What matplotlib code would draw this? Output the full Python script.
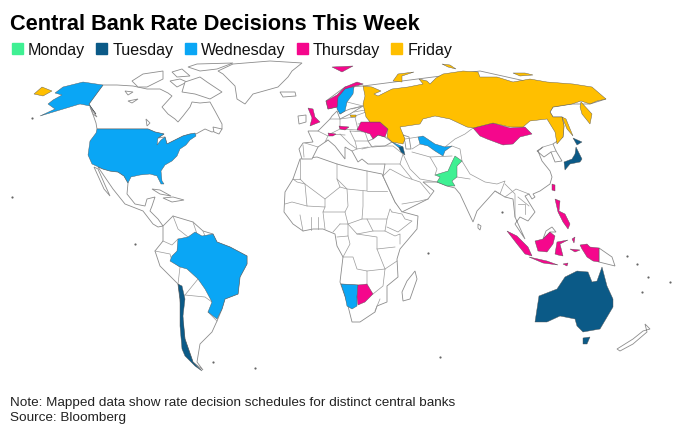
import matplotlib.pyplot as plt
from matplotlib.patches import Patch

plt.rcParams['font.family'] = ['Liberation Sans', 'DejaVu Sans']

title = "Central Bank Rate Decisions This Week"
days = ['Monday', 'Tuesday', 'Wednesday', 'Thursday', 'Friday']
day_colors = ['#3ff093', '#0b5a87', '#0aa6f5', '#f5078c', '#ffbf00']
note = "Note: Mapped data show rate decision schedules for distinct central banks\nSource: Bloomberg"

# outlines, as x/y
canada = [(103, 86), (117, 86), (133, 87), (147, 90), (160, 90), (168, 94), (172, 97), (162, 108), (168, 115), (175, 120),
          (178, 123), (183, 117), (190, 108), (192, 103), (200, 104), (210, 103), (215, 112), (222, 125), (222, 130),
          (212, 133), (205, 130), (196, 135), (190, 135), (183, 137), (175, 141), (167, 145), (165, 138), (158, 139),
          (164, 135), (155, 133), (148, 130), (97, 130), (96, 124), (90, 107), (89, 105)]
greenland = [(218, 72), (233, 65), (270, 62), (302, 64), (292, 72), (288, 78), (278, 88), (253, 95), (245, 105),
             (237, 100), (235, 87), (223, 75)]
arctic_islands = [
    [(188, 68), (197, 65), (233, 64), (217, 70), (200, 72)],
    [(132, 82), (143, 75), (163, 72), (163, 80), (147, 88), (138, 88)],
    [(170, 82), (180, 80), (187, 83), (177, 88)],
    [(185, 83), (200, 78), (207, 83), (222, 93), (210, 100), (195, 95), (182, 93)],
    [(172, 73), (182, 70), (190, 77), (177, 78)],
    [(125, 92), (133, 93), (128, 96)],
    [(128, 102), (138, 100), (132, 104)],
    [(213, 128), (222, 130), (219, 135), (214, 133)],
    [(280, 93), (295, 93), (296, 97), (283, 98)],
    [(90, 108), (97, 118), (93, 115)],
    [(146, 120), (150, 124), (147, 127)],
]
mexico = [(98, 168), (103, 170), (110, 172), (118, 173), (124, 177), (128, 184), (127, 195), (135, 205), (145, 207),
          (147, 200), (155, 198), (152, 207), (150, 212), (158, 220), (163, 227), (158, 228), (153, 225), (143, 212),
          (125, 205), (113, 190)]
baja = [(94, 168), (98, 170), (105, 186), (110, 197), (104, 190)]
caribbean = [
    [(152, 190), (160, 191), (171, 197), (160, 195)],
    [(163, 199), (173, 198), (184, 201), (172, 203)],
]
south_america = [(163, 227), (173, 217), (193, 223), (203, 232), (213, 235), (217, 243), (230, 248), (247, 257),
                 (247, 265), (240, 278), (238, 295), (225, 300), (222, 310), (217, 322), (212, 333), (200, 345),
                 (197, 363), (203, 371), (193, 363), (185, 340), (178, 285), (160, 267), (155, 252), (163, 242)]
africa = [(300, 160), (317, 158), (337, 165), (348, 168), (367, 172), (382, 175), (395, 203), (403, 213), (418, 217),
          (417, 230), (400, 250), (397, 260), (398, 278), (387, 287), (387, 303), (377, 307), (375, 313), (360, 323),
          (352, 323), (347, 303), (340, 283), (343, 258), (337, 247), (335, 235), (323, 230), (313, 230), (303, 232),
          (293, 225), (284, 213), (285, 193), (293, 180)]
eurasia = [(363, 87), (480, 72), (606, 100), (590, 105), (572, 105), (553, 108), (550, 113), (553, 118), (562, 118),
           (564, 127), (563, 138), (553, 145), (556, 152), (562, 162), (555, 163), (551, 153), (544, 158), (537, 152),
           (543, 148), (538, 152), (542, 162), (550, 172), (552, 178), (550, 185), (540, 192), (533, 195), (535, 198),
           (532, 200), (529, 195), (525, 197), (535, 213), (528, 222), (520, 218), (515, 225), (525, 240), (515, 218),
           (513, 200), (505, 198), (495, 192), (477, 212), (473, 223), (460, 195), (455, 189), (447, 187), (437, 183),
           (423, 183), (434, 192), (428, 200), (402, 213), (395, 203), (383, 177), (385, 165), (368, 165), (362, 160),
           (358, 163), (352, 152), (345, 148), (345, 160), (335, 147), (328, 141), (318, 148), (312, 160), (302, 160),
           (299, 150), (303, 144), (313, 143), (308, 132), (318, 132), (330, 120), (332, 117), (337, 112), (340, 120),
           (350, 115), (363, 107), (350, 110), (345, 112), (340, 115), (337, 108), (328, 110), (326, 102), (345, 88)]
black_sea = [(368, 142), (373, 140), (378, 136), (385, 138), (392, 143), (385, 147), (372, 148)]
caspian = [(403, 136), (409, 138), (411, 150), (406, 150), (405, 143)]
other_islands = [
    [(298, 117), (306, 116), (306, 123), (299, 125)],
    [(478, 225), (481, 227), (480, 231), (478, 229)],
    [(599, 249), (612, 258), (615, 267), (599, 263)],
    [(617, 350), (633, 340), (643, 332), (650, 330), (645, 325), (647, 333), (633, 345), (620, 352)],
    [(402, 293), (407, 282), (415, 272), (417, 280), (410, 300), (403, 302)],
    [(543, 240), (546, 232), (552, 228), (556, 233), (550, 233)],
]
borders = [
    [(173, 217), (178, 230), (188, 238)], [(163, 242), (172, 246), (178, 240)], [(155, 252), (170, 255), (172, 262)],
    [(172, 262), (180, 268), (178, 285)], [(185, 296), (198, 280)], [(185, 296), (205, 298), (212, 303)],
    [(208, 313), (217, 322)], [(193, 223), (197, 235)], [(203, 232), (205, 237)],
    [(300, 160), (300, 180), (293, 180)], [(300, 180), (305, 185), (325, 200), (340, 188), (337, 180), (337, 165)],
    [(293, 180), (297, 183), (305, 185), (307, 207), (325, 208), (325, 200)], [(285, 205), (292, 203), (307, 207)],
    [(340, 188), (347, 190), (348, 207), (345, 213), (323, 213), (325, 208)], [(337, 180), (347, 190), (367, 192), (367, 172)],
    [(367, 192), (387, 192)], [(363, 192), (363, 207), (362, 220), (348, 225), (345, 213)],
    [(362, 220), (367, 220), (380, 220), (387, 220), (390, 210), (392, 213)], [(367, 220), (373, 232), (385, 232), (387, 220)],
    [(392, 213), (402, 215), (405, 220), (412, 222), (398, 233), (387, 228)], [(385, 232), (395, 237), (400, 235), (400, 245)],
    [(323, 213), (325, 230)], [(340, 225), (333, 233)], [(340, 225), (348, 225), (348, 237), (337, 238)],
    [(311, 218), (311, 231)], [(318, 218), (318, 230)], [(300, 216), (303, 232)], [(348, 225), (357, 235), (373, 232)],
    [(343, 258), (353, 258), (357, 270), (367, 272), (367, 285)], [(348, 237), (350, 245), (343, 258)],
    [(357, 235), (377, 238), (377, 250), (385, 270)], [(367, 272), (385, 270), (397, 262)], [(385, 270), (383, 287), (373, 295)],
    [(380, 300), (375, 312)], [(341, 285), (358, 286)], [(395, 248), (377, 250)],
    [(318, 132), (328, 137), (325, 143), (328, 141)], [(305, 144), (318, 148)], [(303, 146), (304, 158)],
    [(330, 120), (340, 120), (340, 130), (330, 135), (328, 137)], [(340, 120), (355, 118), (358, 131)],
    [(340, 130), (358, 131)], [(355, 117), (366, 113), (370, 123), (358, 125)], [(352, 110), (363, 107)], [(354, 113), (365, 111)],
    [(350, 132), (365, 133), (368, 142), (355, 142), (350, 132)], [(340, 135), (350, 145), (357, 150), (368, 148)],
    [(355, 142), (357, 150), (352, 152)], [(330, 135), (345, 136)],
    [(354, 88), (363, 85)], [(347, 103), (363, 107)],
    [(362, 150), (375, 147), (393, 147), (403, 155), (410, 170), (420, 180), (437, 183)],
    [(385, 165), (400, 165), (412, 180)], [(383, 177), (390, 170), (405, 178), (420, 183), (430, 195)],
    [(402, 205), (420, 202), (428, 200)], [(400, 165), (403, 155)],
    [(405, 140), (418, 138)], [(412, 150), (420, 145)], [(412, 153), (430, 158), (437, 170), (435, 176)],
    [(430, 158), (452, 157)], [(445, 148), (455, 140), (465, 135), (473, 129)], [(452, 147), (460, 150), (462, 162)],
    [(462, 162), (470, 175), (485, 183), (497, 185), (505, 182), (500, 195), (495, 192)],
    [(505, 185), (515, 195), (515, 210), (515, 218)], [(518, 205), (525, 205), (525, 215)], [(518, 198), (529, 207)],
    [(457, 178), (470, 180)], [(543, 148), (553, 145)], [(551, 153), (556, 152)], [(505, 198), (516, 190), (529, 195)],
]

# coloured countries
pakistan = [(455, 157), (462, 162), (457, 167), (457, 178), (452, 182), (455, 187), (447, 187), (437, 183), (440, 178),
            (435, 176), (448, 172), (452, 163)]
hokkaido = [(573, 139), (582, 143), (577, 146)]
honshu = [(576, 148), (582, 160), (580, 163), (570, 165), (565, 171), (564, 163), (572, 160), (575, 155)]
australia = [(535, 323), (539, 297), (557, 290), (565, 278), (577, 272), (588, 273), (592, 283), (597, 282), (602, 268),
             (607, 287), (613, 300), (613, 308), (600, 330), (583, 333), (577, 327), (575, 320), (560, 317), (547, 323)]
tasmania = [(583, 339), (590, 338), (587, 345), (583, 345)]
chile = [(178, 285), (182, 287), (185, 300), (183, 317), (185, 340), (193, 363), (202, 372), (195, 367), (185, 357),
         (182, 350), (180, 327), (180, 300)]
armenia = [(398, 147), (403, 148), (405, 156), (401, 153)]
usa = [(97, 130), (148, 130), (155, 133), (164, 135), (158, 139), (157, 146), (161, 141), (165, 138), (167, 145),
       (175, 141), (183, 137), (190, 135), (195, 134), (196, 137), (190, 141), (186, 146), (180, 150), (177, 157),
       (172, 162), (165, 166), (161, 172), (162, 182), (164, 185), (161, 185), (157, 177), (150, 175), (140, 176),
       (131, 178), (128, 184), (124, 177), (118, 173), (110, 172), (103, 170), (92, 165), (88, 156), (90, 142), (96, 134)]
alaska = [(63, 88), (83, 83), (103, 86), (89, 105), (96, 115), (90, 107), (80, 105), (70, 108), (60, 111), (40, 117),
          (55, 110), (48, 105), (53, 101), (62, 96), (55, 94)]
brazil = [(178, 240), (188, 238), (195, 233), (202, 237), (213, 235), (217, 243), (230, 248), (247, 257), (247, 265),
          (240, 278), (238, 295), (225, 300), (222, 310), (217, 320), (208, 313), (212, 303), (205, 290), (198, 280),
          (187, 270), (180, 268), (170, 262), (172, 257), (177, 252)]
namibia = [(341, 285), (358, 286), (357, 297), (357, 307), (352, 310), (347, 307), (345, 297)]
sweden = [(337, 100), (345, 89), (354, 88), (353, 95), (347, 103), (345, 112), (340, 115), (337, 110)]
uzbekistan = [(418, 138), (423, 137), (435, 145), (445, 148), (452, 147), (445, 152), (443, 157), (435, 152), (428, 147),
              (420, 145)]
georgia = [(392, 143), (403, 148), (398, 148)]
botswana = [(358, 286), (367, 285), (373, 295), (365, 303), (358, 306), (357, 298)]
mongolia = [(473, 129), (493, 124), (510, 129), (525, 128), (532, 135), (520, 138), (513, 145), (503, 146), (487, 140),
            (480, 137)]
ukraine = [(357, 131), (361, 123), (380, 123), (388, 130), (385, 138), (378, 136), (373, 140), (370, 135), (358, 131)]
uk = [(308, 109), (313, 110), (315, 118), (320, 123), (310, 127), (312, 119)]
norway = [(326, 102), (337, 96), (345, 88), (357, 83), (363, 85), (355, 87), (345, 90), (338, 98), (337, 108), (328, 110)]
svalbard = [(332, 68), (353, 67), (342, 73)]
czechia = [(339, 127), (349, 128), (345, 131), (340, 130)]
switzerland = [(328, 134), (336, 135), (333, 137), (329, 137)]
taiwan = [(552, 185), (555, 186), (555, 192), (552, 191)]
philippines = [(555, 200), (560, 202), (559, 212), (565, 215), (570, 225), (568, 230), (563, 223), (558, 213)]
sumatra = [(507, 232), (517, 237), (528, 248), (532, 257), (525, 255), (517, 245)]
java = [(529, 258), (547, 262), (558, 266), (543, 264)]
borneo = [(535, 242), (543, 240), (550, 233), (555, 237), (553, 245), (547, 253), (538, 252)]
sulawesi = [(557, 243), (568, 241), (560, 245), (563, 257), (558, 256), (555, 255)]
papua = [(580, 246), (587, 245), (590, 248), (599, 249), (599, 263), (593, 262), (587, 258), (582, 250)]
maluku = [[(572, 240), (575, 238), (574, 244)], [(570, 250), (580, 251), (575, 253)], [(563, 265), (568, 264), (567, 267)]]
russia = [(363, 87), (372, 88), (381, 92), (374, 95), (378, 97), (392, 90), (408, 88), (423, 85), (419, 80), (427, 82),
          (430, 85), (436, 79), (443, 75), (463, 72), (478, 73), (480, 78), (497, 78), (513, 83), (530, 80), (547, 83),
          (573, 85), (592, 88), (606, 100), (597, 102), (590, 105), (581, 102), (572, 105), (553, 108), (550, 113),
          (553, 118), (562, 118), (564, 127), (563, 138), (557, 145), (555, 133), (547, 120), (530, 122), (523, 128),
          (510, 128), (493, 124), (473, 129), (467, 128), (450, 120), (435, 117), (423, 120), (420, 125), (400, 128),
          (405, 140), (403, 145), (392, 143), (387, 138), (388, 130), (380, 123), (370, 123), (366, 118), (363, 105),
          (365, 97)]
kamchatka = [(581, 103), (592, 115), (590, 125), (582, 115), (580, 108)]
sakhalin = [(562, 118), (566, 120), (573, 137), (567, 130)]
novaya_zemlya = [(393, 82), (398, 75), (414, 73), (402, 77), (402, 83)]
russian_islands = [[(442, 65), (450, 66), (456, 70), (448, 68)], [(513, 74), (525, 74), (533, 76), (520, 77)]]
chukotka = [(34, 95), (42, 88), (52, 92), (43, 97)]
kaliningrad = [(350, 116), (356, 116), (356, 118), (351, 118)]

countries_by_day = {
    'Monday': [pakistan],
    'Tuesday': [hokkaido, honshu, australia, tasmania, chile, armenia],
    'Wednesday': [usa, alaska, brazil, namibia, sweden, uzbekistan, georgia],
    'Thursday': [botswana, mongolia, ukraine, uk, norway, svalbard, czechia, switzerland, taiwan, philippines, sumatra,
                 java, borneo, sulawesi, papua] + maluku,
    'Friday': [russia, kamchatka, sakhalin, novaya_zemlya, chukotka, kaliningrad] + russian_islands,
}
dots_x = [12, 32, 135, 213, 255, 428, 440, 502, 627, 637, 648, 670, 642]
dots_y = [198, 119, 245, 363, 369, 254, 358, 213, 257, 265, 278, 283, 293]


def draw_land(ax, outline):
    xs, ys = zip(*outline)
    ax.fill(xs, ys, facecolor='white', edgecolor='#8c8c8c', linewidth=0.6, zorder=1)


def main():
    fig = plt.figure(figsize=(6.8, 4.31), dpi=100)
    ax = fig.add_axes([0, 0, 1, 1])
    ax.set_xlim(0, 680)
    ax.set_ylim(431, 0)
    ax.axis('off')

    for outline in [canada, greenland, mexico, baja, south_america, africa, eurasia, black_sea, caspian]:
        draw_land(ax, outline)
    for outline in arctic_islands + caribbean + other_islands:
        draw_land(ax, outline)
    for line in borders:
        xs, ys = zip(*line)
        ax.plot(xs, ys, color='#9a9a9a', linewidth=0.5, zorder=2)

    for day, color in zip(days, day_colors):
        for outline in countries_by_day[day]:
            xs, ys = zip(*outline)
            ax.fill(xs, ys, facecolor=color, edgecolor='#555555', linewidth=0.3, zorder=3)

    ax.scatter(dots_x, dots_y, s=2.5, color='#666666', linewidths=0, zorder=2)

    ax.text(10, 24, title, fontsize=15.65, fontweight='bold', color='#000000', va='center')

    handles = [Patch(color=c, label=d) for d, c in zip(days, day_colors)]
    ax.legend(handles=handles, loc='center left', bbox_to_anchor=(12 / 680, 1 - 51 / 431), ncol=5, frameon=False,
              fontsize=11.6, handlelength=0.68, handleheight=0.68, handletextpad=0.31, columnspacing=0.7,
              borderpad=0, borderaxespad=0, labelcolor='#111111')

    ax.text(10, 410.5, note, fontsize=9.7, color='#222222', va='center', linespacing=1.3)

    fig.savefig('out.png', dpi=100)


if __name__ == '__main__':
    main()
